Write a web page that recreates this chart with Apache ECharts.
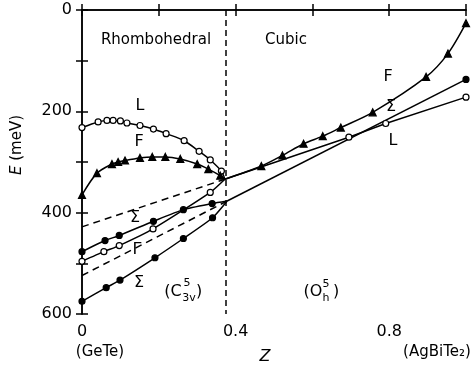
<!DOCTYPE html>
<html>
<head>
<meta charset="utf-8">
<script src="https://cdn.jsdelivr.net/npm/echarts@6/dist/echarts.min.js"></script>
<style>
  html, body { margin: 0; padding: 0; background: #fff; }
  #chart { width: 471px; height: 371px; }
</style>
</head>
<body>
<div id="chart"></div>
<script>
// junction points where the rhombohedral branches merge
const J1 = [0.372, 334];
const J2 = [0.378, 377];

// rhombohedral phase
const zLrh = [0, 0.042, 0.065, 0.081, 0.1, 0.117, 0.151, 0.186, 0.219, 0.266, 0.305, 0.334, 0.363];
const eLrh = [232, 221, 218, 218, 219, 223, 228, 235, 244, 258, 279, 296, 318];
const zFrh = [0, 0.039, 0.078, 0.094, 0.112, 0.151, 0.183, 0.217, 0.256, 0.3, 0.329, 0.36];
const eFrh = [365, 322, 304, 300, 297, 292, 290, 290, 294, 304, 314, 327];
const zSigUp = [0, 0.06, 0.097, 0.186, 0.264, 0.339];
const eSigUp = [477, 455, 445, 417, 394, 382];
const zGam = [0, 0.057, 0.097, 0.185, 0.334];
const eGam = [496, 477, 465, 432, 360];
const zSigLo = [0, 0.063, 0.099, 0.19, 0.264, 0.34];
const eSigLo = [575, 548, 533, 489, 451, 410];
const eSigDash0 = 428;
const eGamDash0 = 524;

// cubic phase
const zFcu = [0.467, 0.522, 0.577, 0.627, 0.674, 0.757, 0.896, 0.953, 1.0];
const eFcu = [308, 287, 264, 249, 232, 202, 132, 86, 26];
const zLcu = [0.695, 0.791, 1.0];
const eLcu = [251, 224, 172];
const zSigCu = [1.0];
const eSigCu = [137];

const zBoundary = 0.375;

const xLabelVals = [0, 0.4, 0.8];
const xLabelText = ['0', '0.4', '0.8'];
const yLabelVals = [0, 200, 400, 600];

function pts(zs, es) {
  return zs.map((z, i) => [z, es[i]]);
}
function bare(p) {
  return { value: p, symbol: 'none' };
}

const lineStyle = { color: '#000', width: 1.5 };
const dashStyle = { color: '#000', width: 1.5, type: [7, 5] };

function curve(data, symbol, smooth, fill) {
  return {
    type: 'line',
    data: data,
    symbol: symbol,
    symbolSize: symbol === 'triangle' ? 7 : 6,
    smooth: smooth,
    lineStyle: lineStyle,
    itemStyle: { color: fill, borderColor: '#000', borderWidth: 1.2 },
    silent: true,
    animation: false,
    z: 3
  };
}

const series = [
  curve(pts(zLrh, eLrh).concat([bare(J1)]), 'circle', 0.3, '#fff'),
  curve(pts(zFrh, eFrh).concat([bare(J1)]), 'triangle', 0.3, '#000'),
  curve(pts(zSigUp, eSigUp).concat([bare(J2)]), 'circle', 0.2, '#000'),
  curve(pts(zGam, eGam).concat([bare(J1)]), 'circle', 0.2, '#fff'),
  curve(pts(zSigLo, eSigLo).concat([bare(J2)]), 'circle', 0.2, '#000'),
  curve([bare(J1)].concat(pts(zFcu, eFcu)), 'triangle', 0.3, '#000'),
  curve([bare(J1)].concat(pts(zLcu, eLcu)), 'circle', false, '#fff'),
  curve([bare(J2)].concat(pts(zSigCu, eSigCu)), 'circle', false, '#000'),
  { type: 'line', data: [[0, eSigDash0], J1], symbol: 'none', lineStyle: dashStyle, silent: true, animation: false },
  { type: 'line', data: [[0, eGamDash0], J2], symbol: 'none', lineStyle: dashStyle, silent: true, animation: false },
  { type: 'line', data: [[zBoundary, 0], [zBoundary, 600]], symbol: 'none', lineStyle: { color: '#000', width: 1.5, type: [6, 4] }, silent: true, animation: false }
];

const font = 'DejaVu Sans';
const axisLine = { show: true, lineStyle: { color: '#000', width: 1.5 } };
const tick = { show: true, inside: true, length: 6, lineStyle: { color: '#000', width: 1.5 } };

function txt(x, y, s, size, italic) {
  return {
    type: 'text', x: x, y: y, z: 10,
    style: {
      text: s, font: (italic ? 'italic ' : '') + size + 'px "' + font + '"',
      fill: '#000', textAlign: 'center', textVerticalAlign: 'middle'
    }
  };
}

const option = {
  animation: false,
  grid: { left: 82, right: 5, top: 10, bottom: 57 },
  xAxis: [
    {
      type: 'value', min: 0, max: 1, interval: 0.2,
      axisLine: axisLine, axisTick: tick, splitLine: { show: false },
      axisLabel: {
        margin: 10, color: '#000', fontSize: 16, fontFamily: font,
        formatter: v => {
          const i = xLabelVals.findIndex(a => Math.abs(a - v) < 1e-6);
          return i >= 0 ? xLabelText[i] : '';
        }
      }
    },
    {
      type: 'value', position: 'top', min: 0, max: 1, interval: 0.2,
      axisLine: axisLine, axisTick: tick, axisLabel: { show: false }, splitLine: { show: false }
    }
  ],
  yAxis: [
    {
      type: 'value', inverse: true, min: 0, max: 600, interval: 100,
      axisLine: axisLine, axisTick: tick, splitLine: { show: false },
      axisLabel: {
        margin: 10, color: '#000', fontSize: 16, fontFamily: font,
        formatter: v => yLabelVals.indexOf(v) >= 0 ? String(v) : ''
      }
    },
    {
      type: 'value', position: 'right', inverse: true, min: 0, max: 600, interval: 100,
      axisLine: axisLine, axisTick: tick, axisLabel: { show: false }, splitLine: { show: false }
    }
  ],
  series: series,
  graphic: [
    txt(156, 40, 'Rhombohedral', 15),
    txt(286, 40, 'Cubic', 15),
    txt(140, 106, 'L', 16),
    txt(139, 142, 'F', 16),
    txt(388, 77, 'F', 16),
    txt(391, 107, 'Σ', 16),
    txt(393, 141, 'L', 16),
    txt(135, 218, 'Σ', 16),
    txt(137, 250, 'Γ', 16),
    txt(139, 283, 'Σ', 16),
    txt(173, 292, '(C', 16),
    txt(187, 283, '5', 11),
    txt(189, 298, '3v', 11),
    txt(199, 292, ')', 16),
    txt(313, 292, '(O', 16),
    txt(326, 284, '5', 11),
    txt(326, 298, 'h', 11),
    txt(336, 292, ')', 16),
    txt(100, 352, '(GeTe)', 15),
    txt(265, 357, 'Z', 16, true),
    txt(437, 352, '(AgBiTe₂)', 15),
    {
      type: 'text', x: 17, y: 145, rotation: Math.PI / 2,
      style: {
        text: '{i|E} (meV)',
        font: '15px "' + font + '"', fill: '#000',
        textAlign: 'center', textVerticalAlign: 'middle',
        rich: { i: { fontStyle: 'italic', fontSize: 15, fontFamily: font } }
      }
    }
  ]
};

const chart = echarts.init(document.getElementById('chart'), null, { renderer: 'canvas' });
chart.setOption(option);
</script>
</body>
</html>
